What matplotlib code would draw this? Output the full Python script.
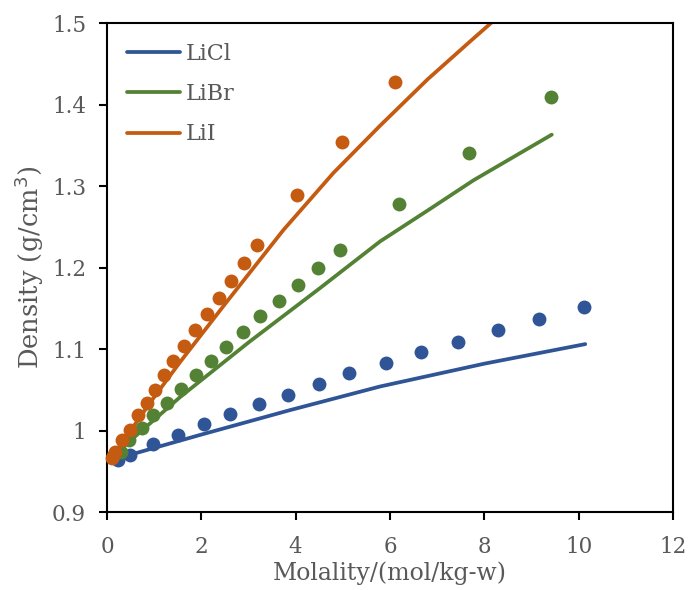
import matplotlib
matplotlib.use("Agg")
import matplotlib.pyplot as plt

# ---- data ----
licl_m = [0.24, 0.49, 0.98, 1.51, 2.06, 2.61, 3.22, 3.84, 4.50, 5.14, 5.91, 6.65, 7.45, 8.28, 9.17, 10.11]
licl_d = [0.964, 0.970, 0.983, 0.995, 1.008, 1.020, 1.032, 1.044, 1.057, 1.070, 1.083, 1.096, 1.109, 1.123, 1.137, 1.151]
libr_m = [0.13, 0.30, 0.47, 0.74, 0.98, 1.27, 1.57, 1.89, 2.20, 2.53, 2.88, 3.25, 3.64, 4.05, 4.48, 4.93, 6.20, 7.67, 9.42]
libr_d = [0.969, 0.974, 0.988, 1.003, 1.019, 1.034, 1.051, 1.068, 1.085, 1.102, 1.121, 1.140, 1.159, 1.179, 1.200, 1.221, 1.278, 1.340, 1.409]
lii_m = [0.10, 0.17, 0.32, 0.49, 0.66, 0.84, 1.02, 1.21, 1.40, 1.63, 1.87, 2.11, 2.37, 2.62, 2.91, 3.19, 4.02, 4.98, 6.11]
lii_d = [0.966, 0.974, 0.988, 1.001, 1.019, 1.034, 1.050, 1.068, 1.085, 1.104, 1.123, 1.143, 1.163, 1.184, 1.205, 1.228, 1.289, 1.354, 1.428]

licl_fit_m = [0.05, 2.0, 3.88, 5.79, 8.0, 10.14]
licl_fit_d = [0.963, 0.995, 1.025, 1.054, 1.082, 1.106]
libr_fit_m = [0.05, 1.55, 3.0, 4.5, 5.79, 6.8, 7.77, 9.43]
libr_fit_d = [0.965, 1.041, 1.108, 1.174, 1.232, 1.270, 1.307, 1.363]
lii_fit_m = [0.05, 1.0, 1.55, 2.5, 3.74, 4.8, 5.79, 6.8, 7.73, 8.3]
lii_fit_d = [0.963, 1.041, 1.084, 1.155, 1.246, 1.316, 1.374, 1.431, 1.479, 1.508]

labels = ["LiCl", "LiBr", "LiI"]
colors = ["#2F5597", "#548235", "#C55A11"]
xticks = [0, 2, 4, 6, 8, 10, 12]
yticks = [0.9, 1.0, 1.1, 1.2, 1.3, 1.4, 1.5]
yticklabels = ["0.9", "1", "1.1", "1.2", "1.3", "1.4", "1.5"]

plt.rcParams['font.family'] = ['DejaVu Serif']
grey = "#595959"

fig = plt.figure(figsize=(6.92, 5.90), dpi=100)
ax = fig.add_axes([0.1546, 0.1322, 0.8179, 0.8288])

fits = [(licl_fit_m, licl_fit_d), (libr_fit_m, libr_fit_d), (lii_fit_m, lii_fit_d)]
pts = [(licl_m, licl_d), (libr_m, libr_d), (lii_m, lii_d)]
for (fm, fd), lab, c in zip(fits, labels, colors):
    ax.plot(fm, fd, color=c, lw=2.7, label=lab, solid_capstyle='round',
            solid_joinstyle='round', zorder=2)
for (pm, pd), c in zip(pts, colors):
    ax.plot(pm, pd, 'o', color=c, ms=10, mec='none', zorder=3, clip_on=False)

ax.set_xlim(0, 12)
ax.set_ylim(0.9, 1.5)
ax.set_xticks(xticks)
ax.set_xticklabels([str(t) for t in xticks])
ax.set_yticks(yticks)
ax.set_yticklabels(yticklabels)
ax.tick_params(direction='out', length=6, width=1.5, colors='black',
               labelcolor=grey, labelsize=15.5)
ax.tick_params(axis='y', pad=9)
ax.tick_params(axis='x', pad=11)
for s in ax.spines.values():
    s.set_linewidth(1.5)
    s.set_color('black')

ax.set_xlabel("Molality/(mol/kg-w)", fontsize=17, color=grey, labelpad=3)
ax.set_ylabel("Density (g/cm$^3$)", fontsize=18.5, color=grey, labelpad=4)

leg = ax.legend(loc='upper left', frameon=False, fontsize=16, handlelength=2.4,
                handletextpad=0.25, labelspacing=0.82, borderaxespad=0.5)
for t in leg.get_texts():
    t.set_color(grey)

fig.savefig("out.png", dpi=100)
